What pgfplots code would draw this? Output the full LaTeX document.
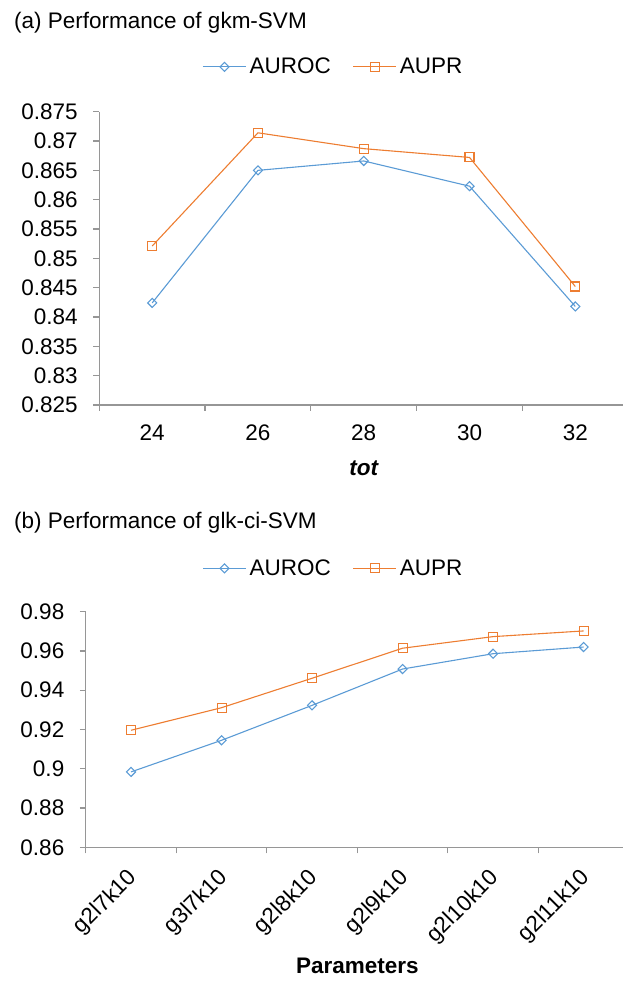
\documentclass[border=0pt]{standalone}
\usepackage{fontspec}
\setmainfont{Liberation Sans}
\usepackage{pgfplots}
\pgfplotsset{compat=1.18}
\definecolor{cblue}{RGB}{91,155,213}
\definecolor{corange}{RGB}{237,125,49}
\definecolor{axgray}{RGB}{150,150,150}
\newcommand{\bigfont}{\fontsize{22.5}{26}\selectfont}
\pgfplotsset{
  myaxis/.style={
    scale only axis,
    axis x line*=bottom, axis y line*=left,
    axis line style={axgray, line width=1.2pt, -},
    tick align=outside,
    major tick length=6pt,
    minor tick length=6pt,
    major x tick style={draw=none},
    minor x tick style={axgray, line width=1.2pt},
    major y tick style={axgray, line width=1.2pt},
    font=\bigfont,
    tick label style={font=\bigfont},
    /pgf/number format/assume math mode=true,
    legend columns=2,
    legend cell align=left,
    legend style={draw=none, fill=none, font=\bigfont, anchor=center,
      nodes={inner sep=3pt},
      /tikz/every even column/.append style={column sep=19pt}},
    legend image code/.code={\draw[mark repeat=2,mark phase=2] plot coordinates {(0pt,0pt) (21.5pt,0pt) (43pt,0pt)};},
    clip=false,
  },
  aurocstyle/.style={color=cblue, line width=1.1pt, mark=square, mark size=3.2pt, mark options={solid, fill=white, rotate=45, line width=1.1pt}},
  auprstyle/.style={color=corange, line width=1.1pt, mark=square, mark size=4.5pt, mark options={solid, fill=white, line width=1.1pt}},
}
\begin{document}
\begin{tikzpicture}
\path[use as bounding box] (0,0) rectangle (623pt,982pt);
\node[anchor=west, inner sep=0pt, font=\bigfont] at (14pt,959pt) {(a) Performance of gkm-SVM};
\node[anchor=west, inner sep=0pt, font=\bigfont] at (14pt,459pt) {(b) Performance of glk-ci-SVM};

\begin{axis}[myaxis,
  at={(99.3pt,577pt)}, anchor=south west,
  width=528.9pt, height=293.3pt,
  xmin=0.5, xmax=5.5, ymin=0.825, ymax=0.875,
  xtick={1,2,3,4,5}, xticklabels={24,26,28,30,32},
  xticklabel style={yshift=-10.5pt},
  minor xtick={0.5,1.5,2.5,3.5,4.5},
  ytick={0.825,0.83,0.835,0.84,0.845,0.85,0.855,0.86,0.865,0.87,0.875},
  yticklabels={0.825,0.83,0.835,0.84,0.845,0.85,0.855,0.86,0.865,0.87,0.875},
  yticklabel style={xshift=-12pt},
  xlabel={\bfseries\itshape tot},
  x label style={at={(axis description cs:0.5,0)}, anchor=center, yshift=-63pt},
  legend style={at={(0.4436,1.153)}},
]
\addplot[aurocstyle] coordinates {(1,0.8424) (2,0.8650) (3,0.8666) (4,0.8623) (5,0.8418)};
\addlegendentry{AUROC}
\addplot[auprstyle] coordinates {(1,0.8521) (2,0.8714) (3,0.8687) (4,0.8672) (5,0.8452)};
\addlegendentry{AUPR}
\end{axis}

\begin{axis}[myaxis,
  at={(85.8pt,134.7pt)}, anchor=south west,
  width=543pt, height=235.6pt,
  xmin=0.5, xmax=6.5, ymin=0.86, ymax=0.98,
  xtick={1,2,3,4,5,6}, xticklabels={g2l7k10,g3l7k10,g2l8k10,g2l9k10,g2l10k10,g2l11k10},
  xticklabel style={xshift=5pt, yshift=-19pt, rotate=45, anchor=east},
  minor xtick={0.5,1.5,2.5,3.5,4.5,5.5},
  ytick={0.86,0.88,0.9,0.92,0.94,0.96,0.98},
  yticklabels={0.86,0.88,0.9,0.92,0.94,0.96,0.98},
  yticklabel style={xshift=-12pt},
  xlabel={\bfseries Parameters},
  x label style={at={(axis description cs:0.5,0)}, anchor=center, yshift=-119pt},
  legend style={at={(0.457,1.184)}},
]
\addplot[aurocstyle] coordinates {(1,0.8984) (2,0.9145) (3,0.9323) (4,0.9508) (5,0.9586) (6,0.9620)};
\addlegendentry{AUROC}
\addplot[auprstyle] coordinates {(1,0.9196) (2,0.9311) (3,0.9461) (4,0.9614) (5,0.9673) (6,0.9702)};
\addlegendentry{AUPR}
\end{axis}
\end{tikzpicture}
\end{document}
